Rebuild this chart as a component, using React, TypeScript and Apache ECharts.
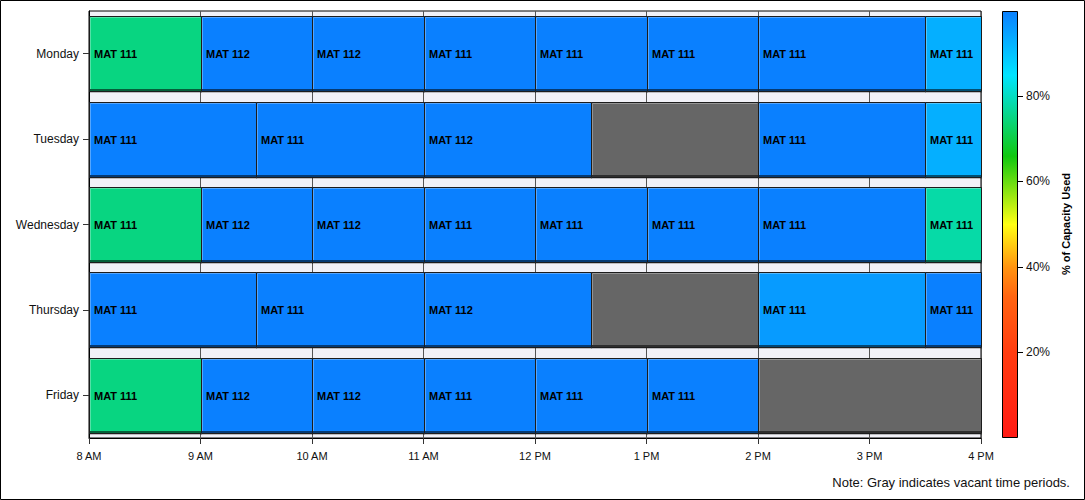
import React, { useEffect, useRef } from 'react';
import * as echarts from 'echarts';

const days = ['Monday', 'Tuesday', 'Wednesday', 'Thursday', 'Friday'];
const hourLabels = ['8 AM', '9 AM', '10 AM', '11 AM', '12 PM', '1 PM', '2 PM', '3 PM', '4 PM'];
const capacityTicks = [20, 40, 60, 80];

// [start hour, end hour, course, % of capacity used]
const mondayClasses: [number, number, string, number][] = [
  [8, 9, 'MAT 111', 75], [9, 10, 'MAT 112', 100], [10, 11, 'MAT 112', 100], [11, 12, 'MAT 111', 100],
  [12, 13, 'MAT 111', 100], [13, 14, 'MAT 111', 100], [14, 15.5, 'MAT 111', 100], [15.5, 16, 'MAT 111', 93],
];
const tuesdayClasses: [number, number, string, number][] = [
  [8, 9.5, 'MAT 111', 100], [9.5, 11, 'MAT 111', 100], [11, 12.5, 'MAT 112', 100],
  [14, 15.5, 'MAT 111', 100], [15.5, 16, 'MAT 111', 93],
];
const wednesdayClasses: [number, number, string, number][] = [
  [8, 9, 'MAT 111', 75], [9, 10, 'MAT 112', 100], [10, 11, 'MAT 112', 100], [11, 12, 'MAT 111', 100],
  [12, 13, 'MAT 111', 100], [13, 14, 'MAT 111', 100], [14, 15.5, 'MAT 111', 100], [15.5, 16, 'MAT 111', 78],
];
const thursdayClasses: [number, number, string, number][] = [
  [8, 9.5, 'MAT 111', 100], [9.5, 11, 'MAT 111', 100], [11, 12.5, 'MAT 112', 100],
  [14, 15.5, 'MAT 111', 96], [15.5, 16, 'MAT 111', 100],
];
const fridayClasses: [number, number, string, number][] = [
  [8, 9, 'MAT 111', 75], [9, 10, 'MAT 112', 100], [10, 11, 'MAT 112', 100], [11, 12, 'MAT 111', 100],
  [12, 13, 'MAT 111', 100], [13, 14, 'MAT 111', 100],
];
// [day index, start hour, end hour]
const vacantPeriods: [number, number, number][] = [
  [1, 12.5, 14], [3, 12.5, 14], [4, 14, 16],
];

const colorStops: [number, string][] = [
  [0, '#ff1a14'], [20, '#ff3c10'], [33, '#ff6410'], [40, '#ff9410'], [50, '#ffff14'],
  [66, '#10c810'], [85, '#00e4ff'], [100, '#0a80ff'],
];

const FONT = '"Liberation Sans", Arial, Helvetica, sans-serif';

function hexToRgb(h: string): number[] {
  const p = echarts.color.parse(h) as number[];
  return [p[0], p[1], p[2]];
}
function rgbStr(c: number[]) {
  return `rgb(${Math.round(c[0])},${Math.round(c[1])},${Math.round(c[2])})`;
}
function mix(a: string, b: string, t: number) {
  const ca = hexToRgb(a), cb = hexToRgb(b);
  return rgbStr([0, 1, 2].map(i => ca[i] + (cb[i] - ca[i]) * t));
}
function stopColor(v: number) {
  for (let i = 0; i < colorStops.length - 1; i++) {
    const [v0, c0] = colorStops[i];
    const [v1, c1] = colorStops[i + 1];
    if (v >= v0 && v <= v1) return mix(c0, c1, (v - v0) / (v1 - v0));
  }
  return colorStops[colorStops.length - 1][1];
}

export default function App() {
  const ref = useRef<HTMLDivElement>(null);
  useEffect(() => {
    document.body.style.margin = '0';
    const chart = echarts.init(ref.current!, null, { renderer: 'svg' });

    const schedule = [mondayClasses, tuesdayClasses, wednesdayClasses, thursdayClasses, fridayClasses];
    const classData: number[][] = [];
    const classLabels: string[] = [];
    schedule.forEach((list, d) => {
      list.forEach(([s, e, course, cap]) => {
        classData.push([d, s, e, cap]);
        classLabels.push(course);
      });
    });
    const vacantData = vacantPeriods.map(([d, s, e]) => [d, s, e]);
    const tickData = capacityTicks.map(v => [1, v]);

    const sampled: string[] = [];
    for (let v = 0; v <= 100; v++) sampled.push(stopColor(v));

    const makeRender = (fixedColor: string | null, labels: string[] | null) => (params: any, api: any) => {
      const d = api.value(0);
      const p0 = api.coord([api.value(1), d]);
      const p1 = api.coord([api.value(2), d]);
      const bandH = api.size([0, 1])[1];
      const hRaw = bandH * 0.878;
      const x = Math.round(p0[0]);
      const y = Math.round(p0[1] - hRaw / 2);
      const w = Math.round(p1[0]) - x;
      const h = Math.round(hRaw);
      const color = fixedColor || api.visual('color');
      const light = mix(color, '#ffffff', 0.3);
      const dark = mix(color, '#000000', 0.55);
      const children: any[] = [
        { type: 'rect', shape: { x: x + 0.5, y: y + 0.5, width: w, height: h }, style: { fill: color, stroke: '#1c1c1c', lineWidth: 1 } },
        { type: 'line', shape: { x1: x + 1.5, y1: y + 1.5, x2: x + w - 0.5, y2: y + 1.5 }, style: { stroke: light, lineWidth: 1 } },
        { type: 'line', shape: { x1: x + 1.5, y1: y + 1.5, x2: x + 1.5, y2: y + h - 1 }, style: { stroke: light, lineWidth: 1 } },
        { type: 'line', shape: { x1: x + 1, y1: y + h - 1, x2: x + w, y2: y + h - 1 }, style: { stroke: dark, lineWidth: 2 } },
        { type: 'line', shape: { x1: x, y1: y + h + 1.5, x2: x + w + 1, y2: y + h + 1.5 }, style: { stroke: 'rgba(0,0,0,0.22)', lineWidth: 1 } },
      ];
      if (labels) {
        children.push({
          type: 'text', x: x + 5, y: y + h / 2,
          style: { text: labels[params.dataIndex], font: `bold 11px ${FONT}`, fill: '#000', align: 'left', verticalAlign: 'middle' },
        });
      }
      return { type: 'group', children };
    };

    const option: any = {
      animation: false,
      backgroundColor: '#ffffff',
      grid: [
        { left: 89, top: 11, width: 892, height: 427, show: true, borderColor: '#000', borderWidth: 1, backgroundColor: '#f1f1f7' },
        { left: 1002, top: 11, width: 15, height: 426 },
      ],
      xAxis: [
        {
          type: 'value', gridIndex: 0, min: 8, max: 16, interval: 1,
          axisLine: { show: true, lineStyle: { color: '#000' } },
          axisTick: { show: true, length: 6, lineStyle: { color: '#333' } },
          axisLabel: { formatter: (v: number) => hourLabels[v - 8] ?? '', color: '#111', fontSize: 11, fontFamily: FONT, margin: 12 },
          splitLine: { show: true, lineStyle: { color: '#555', width: 1 } },
        },
        { type: 'value', gridIndex: 1, show: false, min: 0, max: 1 },
      ],
      yAxis: [
        {
          type: 'category', gridIndex: 0, data: days, inverse: true,
          axisLine: { show: true, lineStyle: { color: '#000' } },
          axisTick: { show: true, alignWithLabel: true, length: 6, lineStyle: { color: '#333' } },
          axisLabel: { color: '#111', fontSize: 12, fontFamily: FONT, margin: 10 },
          splitLine: { show: false },
        },
        {
          type: 'value', gridIndex: 1, min: 0, max: 100, position: 'right',
          axisLine: { show: false },
          axisTick: { show: false },
          axisLabel: { customValues: capacityTicks, formatter: '{value}%', color: '#111', fontSize: 12, fontFamily: FONT, margin: 9 },
          splitLine: { show: false },
        },
      ],
      visualMap: {
        type: 'continuous', show: false, min: 0, max: 100, dimension: 3, seriesIndex: 0,
        inRange: { color: sampled },
      },
      series: [
        {
          type: 'custom', xAxisIndex: 0, yAxisIndex: 0, data: classData,
          encode: { x: [1, 2], y: 0 },
          renderItem: makeRender(null, classLabels),
          clip: false,
        },
        {
          type: 'custom', xAxisIndex: 0, yAxisIndex: 0, data: vacantData,
          encode: { x: [1, 2], y: 0 },
          renderItem: makeRender('#666666', null),
          clip: false,
        },
        {
          type: 'custom', xAxisIndex: 1, yAxisIndex: 1, data: tickData,
          encode: { x: 0, y: 1 },
          clip: false, silent: true,
          renderItem: (params: any, api: any) => {
            const p = api.coord([api.value(0), api.value(1)]);
            const yy = Math.round(p[1]) + 0.5;
            return { type: 'line', shape: { x1: p[0], y1: yy, x2: p[0] + 6, y2: yy }, style: { stroke: '#000', lineWidth: 1 } };
          },
        },
      ],
      graphic: [
        { type: 'rect', shape: { x: 0.5, y: 0.5, width: 1084, height: 499 }, style: { fill: 'none', stroke: '#000', lineWidth: 1 }, z: 100 },
        {
          type: 'rect', shape: { x: 1002.5, y: 11.5, width: 15, height: 426 }, z: -10,
          style: {
            stroke: '#000', lineWidth: 1,
            fill: new echarts.graphic.LinearGradient(0, 1, 0, 0, colorStops.map(([v, c]) => ({ offset: v / 100, color: c }))),
          },
        },
        {
          type: 'text', x: 1066, y: 224, rotation: Math.PI / 2, z: 50,
          style: { text: '% of Capacity Used', font: `bold 11px ${FONT}`, fill: '#000', align: 'center', verticalAlign: 'middle' },
        },
        {
          type: 'text', x: 1070, y: 482, z: 50,
          style: { text: 'Note: Gray indicates vacant time periods.', font: `13px ${FONT}`, fill: '#111', align: 'right', verticalAlign: 'middle' },
        },
      ],
    };
    chart.setOption(option);
    return () => chart.dispose();
  }, []);
  return <div ref={ref} style={{ width: 1085, height: 500 }} />;
}
